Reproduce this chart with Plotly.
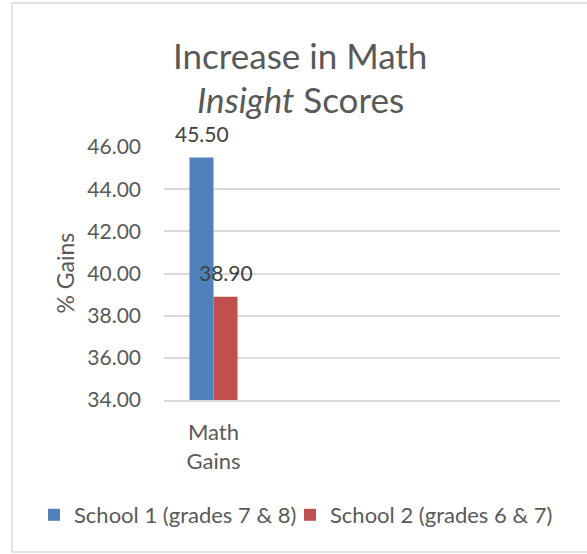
import plotly.graph_objects as go

series_names = ["School 1 (grades 7 & 8)", "School 2 (grades 6 & 7)"]
category = ["Math<br>Gains"]
school1 = [45.50]
school2 = [38.90]
y_ticks = [34, 36, 38, 40, 42, 44, 46]
colors = ["#4f81bd", "#c0504d"]

FONT = "Lato, Open Sans, sans-serif"
GRAY = "#595959"

W, H = 587, 554
L, R, T, B = 164, 27, 147, 154
pw, ph = W - L - R, H - T - B


def px_x(x):
    return (x - L) / pw


def px_y(y):
    return (T + ph - y) / ph


fig = go.Figure()
for name, vals, col, lg in zip(series_names, [school1, school2], colors, ["legend", "legend2"]):
    fig.add_trace(go.Bar(x=[0], y=vals, name=name, legend=lg,
                         marker=dict(color=col, line=dict(width=0))))

# data labels
for vals, shift in [(school1, -12), (school2, 12)]:
    fig.add_annotation(x=0, y=vals[0], xref="x", yref="y", text=f"{vals[0]:.2f}",
                       showarrow=False, xshift=shift, yshift=10, yanchor="bottom",
                       font=dict(family=FONT, size=21, color="#404040"))

# title (two lines)
fig.add_annotation(x=px_x(300), y=px_y(55), xref="paper", yref="paper",
                   text="Increase in Math", showarrow=False, xanchor="center", yanchor="middle",
                   font=dict(family=FONT, size=35, color=GRAY))
fig.add_annotation(x=px_x(300), y=px_y(99), xref="paper", yref="paper",
                   text="<i>Insight</i> Scores", showarrow=False, xanchor="center", yanchor="middle",
                   font=dict(family=FONT, size=35, color=GRAY))

# axis title
fig.add_annotation(x=px_x(64), y=0.5, xref="paper", yref="paper", text="% Gains",
                   textangle=-90, showarrow=False, xanchor="center", yanchor="middle",
                   font=dict(family=FONT, size=23, color=GRAY))

# chart border
fig.add_shape(type="rect", xref="paper", yref="paper",
              x0=px_x(12), x1=px_x(600), y0=px_y(552), y1=px_y(3),
              line=dict(color="#d9d9d9", width=1.5), fillcolor="rgba(0,0,0,0)", layer="below")

legend_common = dict(orientation="h", yanchor="middle", y=px_y(515), xanchor="left",
                     font=dict(family=FONT, size=22, color=GRAY),
                     itemwidth=30, bgcolor="rgba(0,0,0,0)")

fig.update_layout(
    width=W, height=H,
    margin=dict(l=L, r=R, t=T, b=B, autoexpand=False),
    paper_bgcolor="white", plot_bgcolor="white",
    barmode="group", bargap=0.515, bargroupgap=0,
    font=dict(family=FONT, color=GRAY),
    showlegend=True,
    legend=dict(x=px_x(34), **legend_common),
    legend2=dict(x=px_x(290), **legend_common),
    xaxis=dict(range=[-0.5, 3.5], tickvals=[0], ticktext=category,
               showgrid=False, zeroline=False, showline=True, linecolor="#d9d9d9",
               linewidth=1.5, ticks="", tickfont=dict(family=FONT, size=22, color=GRAY),
               ticklabelstandoff=12, automargin=False),
    yaxis=dict(range=[34, 46], tickvals=y_ticks, ticktext=[f"{v:.2f}" for v in y_ticks],
               showgrid=True, gridcolor="#d9d9d9", gridwidth=1.5, zeroline=False,
               showline=False, ticks="", tickfont=dict(family=FONT, size=21, color=GRAY),
               ticklabelstandoff=22, automargin=False),
)

fig.write_html("out.html", config={"displayModeBar": False},
               post_script="document.body.style.margin='0';document.body.style.overflow='hidden';")
